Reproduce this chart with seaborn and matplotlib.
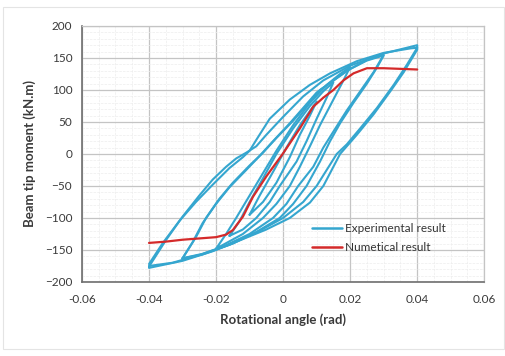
import numpy as np
import pandas as pd
import matplotlib
matplotlib.use("Agg")
import matplotlib.pyplot as plt
from matplotlib.patches import Rectangle
from matplotlib.lines import Line2D
import seaborn as sns

# ---------------- data ----------------
# Experimental hysteresis loops: each loop = loading branch then unloading branch
loop1_x = [-0.010, -0.007, -0.003, 0.001, 0.005, 0.010, 0.008, 0.005, 0.002, -0.002, -0.006, -0.010]
loop1_y = [-95, -65, -28, 10, 45, 82, 60, 30, -5, -45, -75, -95]

loop2_x = [-0.016, -0.013, -0.010, -0.006, -0.002, 0.003, 0.008, 0.012, 0.015,
           0.013, 0.010, 0.007, 0.004, -0.001, -0.004, -0.008, -0.012, -0.016]
loop2_y = [-128, -105, -75, -38, 0, 40, 75, 98, 112,
           88, 55, 20, -12, -50, -75, -100, -118, -128]

loop3_x = [-0.020, -0.017, -0.014, -0.010, -0.006, -0.002, 0.003, 0.008, 0.013, 0.017, 0.020,
           0.018, 0.015, 0.011, 0.008, 0.005, 0.002, -0.002, -0.006, -0.012, -0.020]
loop3_y = [-148, -125, -100, -65, -30, 5, 45, 80, 108, 125, 136,
           115, 85, 45, 12, -20, -50, -78, -100, -125, -148]

loop4_x = [-0.030, -0.026, -0.023, -0.019, -0.015, -0.010, -0.006, -0.002, 0.003, 0.011, 0.020, 0.025, 0.030,
           0.027, 0.023, 0.019, 0.015, 0.012, 0.009, 0.0045, 0.001, -0.003, -0.010, -0.018, -0.024, -0.030]
loop4_y = [-163, -130, -100, -70, -45, -18, 2, 25, 52, 100, 133, 147, 155,
           128, 98, 68, 35, 10, -20, -50, -78, -100, -125, -145, -156, -163]

loop5_x = [-0.030, -0.027, -0.024, -0.020, -0.016, -0.011, -0.007, -0.003, 0.002, 0.010, 0.019, 0.025, 0.030,
           0.028, 0.025, 0.021, 0.017, 0.014, 0.011, 0.007, 0.003, -0.001, -0.008, -0.016, -0.024, -0.030]
loop5_y = [-163, -138, -108, -78, -52, -25, -3, 20, 48, 96, 130, 146, 154,
           135, 110, 80, 48, 20, -12, -50, -78, -100, -122, -142, -157, -163]

loop6_x = [-0.040, -0.035, -0.030, -0.025, -0.021, -0.017, -0.014, -0.011, -0.008, -0.005, 0.000, 0.006,
           0.012, 0.020, 0.030, 0.040,
           0.040, 0.036, 0.032, 0.027, 0.022, 0.019, 0.017, 0.015, 0.012, 0.008, 0.002, -0.005, -0.012,
           -0.021, -0.030, -0.040]
loop6_y = [-176, -135, -98, -65, -40, -20, -7, 2, 12, 30, 58, 90,
           115, 138, 157, 170,
           163, 128, 98, 62, 30, 12, 0, -20, -50, -76, -100, -118, -133,
           -152, -167, -178]

loop7_x = [-0.040, -0.036, -0.031, -0.026, -0.021, -0.016, -0.012, -0.010, -0.008, -0.004, 0.002, 0.008,
           0.014, 0.022, 0.030, 0.038, 0.040,
           0.037, 0.033, 0.028, 0.023, 0.019, 0.016, 0.013, 0.010, 0.006, 0.000, -0.007, -0.015,
           -0.025, -0.033, -0.040]
loop7_y = [-172, -140, -105, -75, -48, -22, -5, 5, 22, 55, 85, 108,
           126, 145, 158, 165, 166,
           140, 108, 72, 40, 15, 0, -25, -50, -75, -100, -120, -140,
           -158, -170, -175]

# Numerical result
num_x = [-0.040, -0.035, -0.030, -0.025, -0.020, -0.017, -0.015, -0.012, -0.009, -0.005, 0.000,
         0.005, 0.009, 0.012, 0.015, 0.018, 0.021, 0.025, 0.030, 0.035, 0.040]
num_y = [-139, -137, -134, -132, -130, -126, -119, -98, -67, -35, 1,
         40, 74, 88, 100, 115, 126, 134, 134, 133, 132]

x_ticks = [-0.06, -0.04, -0.02, 0, 0.02, 0.04, 0.06]
x_tick_labels = ["-0.06", "-0.04", "-0.02", "0", "0.02", "0.04", "0.06"]
y_ticks = [-200, -150, -100, -50, 0, 50, 100, 150, 200]

series_exp = "Experimental result"
series_num = "Numetical result"

# ---------------- build tables ----------------
loops = [(loop1_x, loop1_y), (loop2_x, loop2_y), (loop3_x, loop3_y), (loop4_x, loop4_y),
         (loop5_x, loop5_y), (loop6_x, loop6_y), (loop7_x, loop7_y)]
rows = []
for i, (lx, ly) in enumerate(loops):
    for k, (a, b) in enumerate(zip(lx, ly)):
        rows.append({"loop": i, "order": k, "angle": a, "moment": b})
exp_df = pd.DataFrame(rows)
num_df = pd.DataFrame({"angle": num_x, "moment": num_y})

# ---------------- plot ----------------
sns.set_theme(style="white")
plt.rcParams["font.family"] = ["Lato", "DejaVu Sans"]

fig = plt.figure(figsize=(5.06, 3.56), dpi=100)
ax = fig.add_axes([0.162, 0.208, 0.795, 0.719])

exp_color = "#35a6cf"
num_color = "#d42a2a"

sns.lineplot(data=exp_df, x="angle", y="moment", units="loop", estimator=None, sort=False,
             color=exp_color, lw=1.5, ax=ax, legend=False, zorder=3)
sns.lineplot(data=num_df, x="angle", y="moment", estimator=None, sort=False,
             color=num_color, lw=1.6, ax=ax, legend=False, zorder=4)

ax.set_xlim(-0.06, 0.06)
ax.set_ylim(-200, 200)
ax.set_xticks(x_ticks)
ax.set_xticklabels(x_tick_labels)
ax.set_yticks(y_ticks)
ax.set_xticks(np.arange(-0.06, 0.0601, 0.005), minor=True)
ax.set_yticks(np.arange(-200, 201, 10), minor=True)

ax.grid(True, which="major", color="#c4c4c4", lw=0.9, zorder=0)
ax.grid(True, which="minor", color="#ededed", lw=0.5, ls="--", zorder=0)
ax.set_axisbelow(True)

for s in ["top", "right"]:
    ax.spines[s].set_color("#c4c4c4")
    ax.spines[s].set_linewidth(0.9)
for s in ["left", "bottom"]:
    ax.spines[s].set_color("#6e6e6e")
    ax.spines[s].set_linewidth(1.2)

ax.tick_params(axis="both", which="major", direction="out", length=4, width=1,
               color="#6e6e6e", labelsize=8.5, labelcolor="#3a3a3a", pad=3)
ax.tick_params(axis="both", which="minor", length=0)
ax.tick_params(axis="x", pad=5)

ax.set_xlabel("Rotational angle (rad)", fontsize=9.5, fontweight="bold", color="#3a3a3a", labelpad=6)
ax.set_ylabel("Beam tip moment (kN.m)", fontsize=9.5, fontweight="bold", color="#3a3a3a", labelpad=6)

handles = [Line2D([], [], color=exp_color, lw=1.8), Line2D([], [], color=num_color, lw=1.8)]
leg = ax.legend(handles, [series_exp, series_num], loc="lower right",
                bbox_to_anchor=(0.93, 0.07), frameon=False, fontsize=8.5,
                handlelength=2.6, handletextpad=0.2, labelspacing=0.7)
for t in leg.get_texts():
    t.set_color("#333333")

fig.patches.append(Rectangle((0.006, 0.02), 0.99, 0.96, transform=fig.transFigure,
                             fill=False, edgecolor="#e4e4e4", lw=0.8))

fig.savefig("out.png", dpi=100)
